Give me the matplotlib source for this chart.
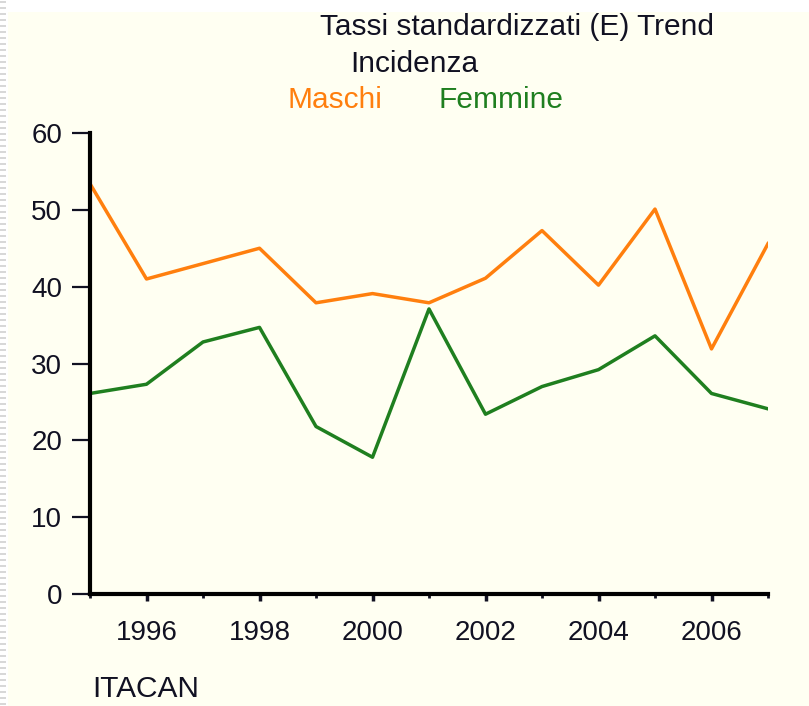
import matplotlib
matplotlib.use("Agg")
import matplotlib.pyplot as plt
from matplotlib.patches import Rectangle

years = list(range(1995, 2008))
maschi = [53.4, 41.0, 43.0, 45.0, 37.9, 39.1, 37.9, 41.1, 47.3, 40.2, 50.1, 31.9, 45.6]
femmine = [26.1, 27.3, 32.8, 34.7, 21.8, 17.8, 37.1, 23.4, 27.0, 29.2, 33.6, 26.1, 24.1]
yticks = [0, 10, 20, 30, 40, 50, 60]
xticks_major = [1996, 1998, 2000, 2002, 2004, 2006]

bg = "#fffff2"
orange = "#ff7f0e"
green = "#1f7f1f"
txt = "#111122"

plt.rcParams["font.family"] = ["Liberation Sans", "DejaVu Sans"]

fig = plt.figure(figsize=(8.09, 7.06), dpi=100)
fig.patch.set_facecolor("white")
# cream page with white top strip and dashed left margin
fig.patches.append(Rectangle((8 / 809, 0), 1, 1 - 12 / 706, transform=fig.transFigure,
                             facecolor=bg, edgecolor="none", zorder=-10))
for yy in range(0, 706, 6):
    fig.patches.append(Rectangle((0, 1 - (yy + 3) / 706), 6 / 809, 2 / 706,
                                 transform=fig.transFigure, facecolor="#d8d8d8",
                                 edgecolor="none", zorder=-9))

ax = fig.add_axes([90 / 809, 1 - 594 / 706, (768 - 90) / 809, (594 - 133) / 706])
ax.set_facecolor(bg)
ax.plot(years, maschi, color=orange, lw=2.5)
ax.plot(years, femmine, color=green, lw=2.5)

ax.set_xlim(1995, 2007)
ax.set_ylim(0, 60)
ax.set_yticks(yticks)
ax.set_xticks(xticks_major)
ax.set_xticks(years, minor=True)
ax.tick_params(axis="y", length=13, width=1.6, labelsize=20, pad=7, colors=txt)
ax.tick_params(axis="x", which="major", length=5, width=2.5, labelsize=20, pad=14, colors=txt)
ax.tick_params(axis="x", which="minor", length=3, width=2, colors=txt)
for side in ("top", "right"):
    ax.spines[side].set_visible(False)
for side in ("left", "bottom"):
    ax.spines[side].set_linewidth(3)
    ax.spines[side].set_color("black")

fig.text(517 / 809, 1 - 27 / 706, "Tassi standardizzati (E) Trend", ha="center", va="center",
         fontsize=21.5, color=txt)
fig.text(414 / 809, 1 - 64 / 706, "Incidenza", ha="center", va="center", fontsize=21.5, color=txt)
fig.text(287 / 809, 1 - 100 / 706, "Maschi", ha="left", va="center", fontsize=21.5, color=orange)
fig.text(438 / 809, 1 - 100 / 706, "Femmine", ha="left", va="center", fontsize=21.5, color=green)
fig.text(92 / 809, 1 - 689 / 706, "ITACAN", ha="left", va="center", fontsize=21.5, color=txt)

fig.savefig("out.png", dpi=100, facecolor=fig.get_facecolor())
